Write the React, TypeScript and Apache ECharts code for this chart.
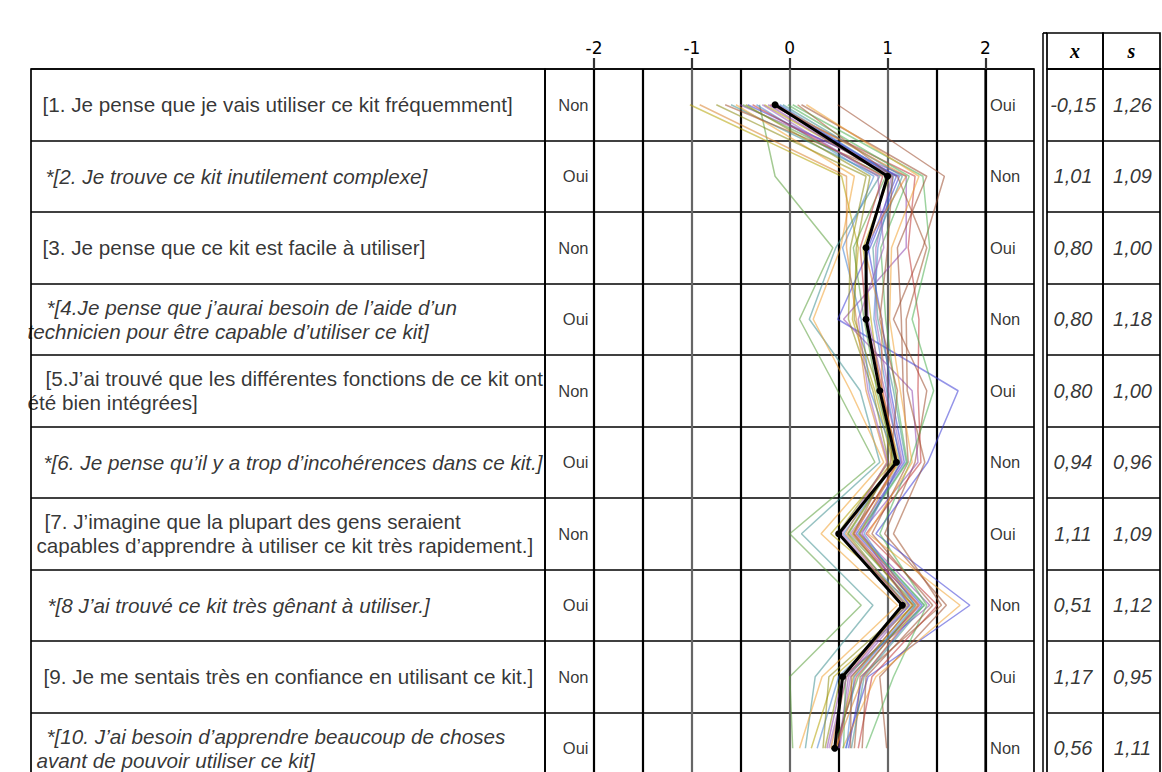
import React, { useEffect, useRef } from "react";
import * as echarts from "echarts";

// ---------- data ----------
const questions: string[][] = [
  ["[1. Je pense que je vais utiliser ce kit fréquemment]"],
  ["*[2. Je trouve ce kit inutilement complexe]"],
  ["[3. Je pense que ce kit est facile à utiliser]"],
  ["*[4.Je pense que j’aurai besoin de l’aide d’un", "technicien pour être capable d’utiliser ce kit]"],
  ["[5.J’ai trouvé que les différentes fonctions de ce kit ont", "été bien intégrées]"],
  ["*[6. Je pense qu’il y a trop d’incohérences dans ce kit.]"],
  ["[7. J’imagine que la plupart des gens seraient", "capables d’apprendre à utiliser ce kit très rapidement.]"],
  ["*[8 J’ai trouvé ce kit très gênant à utiliser.]"],
  ["[9. Je me sentais très en confiance en utilisant ce kit.]"],
  ["*[10. J’ai besoin d’apprendre beaucoup de choses", "avant de pouvoir utiliser ce kit]"],
];
const leftPoles = ["Non", "Oui", "Non", "Oui", "Non", "Oui", "Non", "Oui", "Non", "Oui"];
const rightPoles = ["Oui", "Non", "Oui", "Non", "Oui", "Non", "Oui", "Non", "Oui", "Non"];
const tableMeans = ["-0,15", "1,01", "0,80", "0,80", "0,80", "0,94", "1,11", "0,51", "1,17", "0,56"];
const tableSds = ["1,26", "1,09", "1,00", "1,18", "1,00", "0,96", "1,09", "1,12", "0,95", "1,11"];
const axisTicks = [-2, -1, 0, 1, 2];
const meanProfile = [-0.15, 1.0, 0.78, 0.78, 0.92, 1.09, 0.5, 1.15, 0.54, 0.46];

const respondents: number[][] = [
  [-1.02, 0.53, 0.7, 0.64, 0.87, 1.05, 0.42, 1.27, 0.45, 0.22],
  [0.49, 1.58, 1.36, 1.06, 1.4, 1.28, 0.97, 1.6, 0.92, 0.99],
  [-0.31, -0.15, 0.44, 0.1, 0.49, 0.87, 0.0, 0.73, 0.0, 0.03],
  [-0.43, 1.12, 0.82, 0.49, 1.72, 1.41, 0.88, 1.84, 0.8, 0.57],
  [-0.6, 0.92, 0.47, 0.2, 0.72, 0.92, 0.12, 0.85, 0.26, 0.16],
  [-0.55, 0.66, 0.52, 0.24, 0.62, 0.96, 0.32, 1.1, 0.33, 0.1],
  [-0.2, 1.28, 1.21, 1.32, 1.31, 1.34, 0.78, 1.51, 0.84, 0.7],
  [-0.51, 1.19, 1.19, 0.55, 1.25, 1.31, 0.72, 1.43, 0.54, 0.38],
  [0.03, 1.36, 1.43, 1.25, 1.47, 1.23, 0.92, 1.4, 1.06, 0.78],
  [-0.34, 0.86, 0.54, 0.73, 0.82, 1.09, 0.55, 1.23, 0.5, 0.28],
  [-0.66, 1.1, 1.4, 1.19, 1.2, 1.38, 1.06, 1.55, 0.72, 0.66],
  [-0.75, 0.78, 0.62, 0.6, 0.85, 1.01, 0.49, 1.21, 0.4, 0.34],
  [-0.12, 1.04, 0.88, 0.88, 1.01, 1.15, 0.62, 1.33, 0.62, 0.51],
  [-0.92, 0.58, 0.58, 0.68, 0.78, 0.99, 0.57, 1.16, 0.58, 0.42],
  [-0.26, 1.02, 0.75, 0.83, 0.93, 1.12, 0.64, 1.25, 0.65, 0.48],
  [0.12, 1.4, 1.1, 1.14, 1.16, 1.21, 0.84, 1.46, 0.78, 0.74],
  [-0.48, 0.98, 0.65, 0.76, 0.89, 1.07, 0.6, 1.29, 0.7, 0.45],
  [-0.17, 1.09, 0.8, 0.94, 1.03, 1.17, 0.68, 1.35, 0.74, 0.6],
  [-0.07, 1.15, 0.85, 0.9, 1.06, 1.19, 0.7, 1.37, 0.76, 0.63],
  [0.17, 1.32, 1.04, 1.02, 1.13, 1.25, 0.8, 1.74, 0.88, 0.54],
  [-0.38, 0.95, 0.72, 0.78, 0.95, 1.1, 0.66, 1.31, 0.68, 0.47],
  [-0.22, 1.0, 0.78, 0.8, 0.97, 1.14, 0.74, 1.22, 0.6, 0.5],
  [-0.02, 1.22, 0.93, 0.98, 1.08, 1.2, 0.71, 1.38, 0.57, 0.55],
  [-0.1, 1.06, 0.9, 0.86, 0.99, 1.13, 0.76, 1.28, 0.66, 0.58],
  [0.08, 1.05, 1.0, 0.92, 1.1, 1.03, 0.65, 1.26, 0.63, 0.62],
  [-0.45, 0.82, 0.68, 0.66, 0.91, 1.06, 0.59, 1.18, 0.52, 0.36],
  [-0.28, 0.9, 0.96, 0.7, 0.8, 1.0, 0.53, 1.19, 0.58, 0.4],
  [-0.15, 1.19, 0.76, 0.94, 0.94, 1.1, 0.71, 1.32, 0.75, 0.47],
];

const palette = [
  "#b5a200", "#9b4a2c", "#5a9f3a", "#3c3cd6", "#3f8f8f", "#f0a030", "#c03535",
  "#8e44ad", "#4caf50", "#3f7fd0", "#a0522d", "#8a8a10", "#9b59b6", "#d9822b",
];

// ---------- layout ----------
const TOP = 69;
const ROW_H = 71.5;
const N_ROWS = 10;
const FONT = "'Liberation Sans', Arial, sans-serif";
const Q_SIZE = 20.7;
// line starts (px) of question text: [first line, second line]
const textStarts: number[][] = [[43], [46], [43], [47, 28], [46, 28], [44], [45, 37], [48], [44], [47, 37]];
const TEXT_LEFT = 31;

function rowAxis(gridIndex: number) {
  return {
    gridIndex,
    type: "value",
    min: 0,
    max: N_ROWS,
    interval: 1,
    inverse: true,
    axisLine: { show: false },
    axisTick: { show: false },
    axisLabel: { show: false },
    splitLine: { show: true, lineStyle: { color: "#000", width: 1.7 } },
  };
}

function hiddenX(gridIndex: number) {
  return { gridIndex, type: "value", min: 0, max: 1, show: false };
}

function gridAt(left: number, width: number) {
  return {
    left,
    width,
    top: TOP,
    height: ROW_H * N_ROWS,
    show: true,
    borderColor: "#000",
    borderWidth: 1.7,
    backgroundColor: "transparent",
  };
}

export default function App() {
  const ref = useRef<HTMLDivElement>(null);

  useEffect(() => {
    if (!ref.current) return;
    const chart = echarts.init(ref.current, undefined, { renderer: "svg" });

    const grids = [
      gridAt(594, 391.5), // 0 plot
      gridAt(TEXT_LEFT, 545 - TEXT_LEFT), // 1 questions
      gridAt(545, 49), // 2 left pole
      gridAt(985.5, 48.5), // 3 right pole
      gridAt(1047, 56), // 4 mean table
      gridAt(1103, 57), // 5 sd table
    ];

    const xAxes: any[] = [
      {
        gridIndex: 0,
        type: "value",
        min: -2,
        max: 2,
        interval: 0.5,
        position: "bottom",
        axisLine: { show: false },
        axisTick: { show: false },
        axisLabel: { show: false },
        splitLine: {
          show: true,
          lineStyle: {
            width: 2.2,
            color: ["#000", "#000", "#666", "#000", "#666", "#000", "#666", "#000", "#000"],
          },
        },
      },
      {
        gridIndex: 0,
        type: "value",
        min: -2,
        max: 2,
        interval: 1,
        position: "top",
        axisLine: { show: false },
        axisTick: { show: true, length: 11, lineStyle: { color: "#333", width: 2.2 } },
        axisLabel: {
          show: true,
          fontSize: 17,
          fontFamily: "'DejaVu Sans', sans-serif",
          color: "#000",
          margin: 13,
          formatter: (v: number) => (axisTicks.includes(v) ? String(v) : ""),
        },
        splitLine: { show: false },
      },
      hiddenX(1),
      hiddenX(2),
      hiddenX(3),
      hiddenX(4),
      hiddenX(5),
    ];

    const yAxes = [0, 1, 2, 3, 4, 5].map(rowAxis);

    const respondentSeries = respondents.map((r, k) => ({
      type: "line",
      xAxisIndex: 0,
      yAxisIndex: 0,
      data: r.map((v, i) => [v, i + 0.5]),
      symbol: "none",
      silent: true,
      z: 3,
      lineStyle: { width: 1.5, color: palette[k % palette.length], opacity: 0.55 },
    }));

    const meanSeries = {
      type: "line",
      xAxisIndex: 0,
      yAxisIndex: 0,
      data: meanProfile.map((v, i) => [v, i + 0.5]),
      symbol: "circle",
      symbolSize: 7,
      z: 5,
      itemStyle: { color: "#000" },
      lineStyle: { width: 3, color: "#000" },
    };

    const questionSeries = {
      type: "scatter",
      xAxisIndex: 2,
      yAxisIndex: 1,
      symbolSize: 1,
      itemStyle: { color: "rgba(0,0,0,0)" },
      silent: true,
      data: questions.map((lines, i) => {
        const italic = lines[0].startsWith("*");
        const st = italic ? "it" : "n";
        const starts = textStarts[i];
        const base = Math.min(...starts);
        const pad = starts[0] - base;
        const text = lines
          .map((ln, j) => (j === 0 && pad > 0 ? `{p|\u00a0}{${st}|${ln}}` : `{${st}|${ln}}`))
          .join("\n");
        const common = { fontSize: Q_SIZE, fontFamily: FONT, color: "#000", lineHeight: 24 };
        return {
          value: [0, i + 0.5],
          label: {
            show: true,
            position: "right",
            distance: 0,
            offset: [base - TEXT_LEFT - 1, 0],
            formatter: text,
            rich: {
              n: { ...common },
              it: { ...common, fontStyle: "italic" },
              p: { width: pad, fontSize: Q_SIZE, lineHeight: 24 },
            },
          },
        };
      }),
    };

    const poleLabel = (pos: string, dist: number) => ({
      show: true,
      position: pos,
      distance: dist,
      fontSize: 16.5,
      fontFamily: FONT,
      color: "#000",
    });

    const leftPoleSeries = {
      type: "scatter",
      xAxisIndex: 3,
      yAxisIndex: 2,
      symbolSize: 1,
      itemStyle: { color: "rgba(0,0,0,0)" },
      silent: true,
      data: leftPoles.map((t, i) => ({ value: [1, i + 0.5], label: { ...poleLabel("left", 5), formatter: t } })),
    };
    const rightPoleSeries = {
      type: "scatter",
      xAxisIndex: 4,
      yAxisIndex: 3,
      symbolSize: 1,
      itemStyle: { color: "rgba(0,0,0,0)" },
      silent: true,
      data: rightPoles.map((t, i) => ({ value: [0, i + 0.5], label: { ...poleLabel("right", 4), formatter: t } })),
    };

    const valueLabel = {
      show: true,
      position: "inside",
      fontSize: 20,
      fontStyle: "italic",
      fontFamily: FONT,
      color: "#000",
    };
    const meanTableSeries = {
      type: "scatter",
      xAxisIndex: 5,
      yAxisIndex: 4,
      symbolSize: 1,
      itemStyle: { color: "rgba(0,0,0,0)" },
      silent: true,
      data: tableMeans.map((t, i) => ({ value: [0.5, i + 0.5], label: { ...valueLabel, formatter: t, offset: [-2, 0] } })),
    };
    const sdTableSeries = {
      type: "scatter",
      xAxisIndex: 6,
      yAxisIndex: 5,
      symbolSize: 1,
      itemStyle: { color: "rgba(0,0,0,0)" },
      silent: true,
      data: tableSds.map((t, i) => ({ value: [0.5, i + 0.5], label: { ...valueLabel, formatter: t, offset: [1, 0] } })),
    };

    const headerStyle = {
      fill: "#000",
      font: "italic bold 20px 'Liberation Serif', 'Times New Roman', serif",
      textAlign: "center",
      textVerticalAlign: "middle",
    };

    chart.setOption({
      animation: false,
      backgroundColor: "#fff",
      grid: grids,
      xAxis: xAxes,
      yAxis: yAxes,
      series: [...respondentSeries, meanSeries, questionSeries, leftPoleSeries, rightPoleSeries, meanTableSeries, sdTableSeries],
      graphic: [
        { type: "rect", shape: { x: 1047, y: 33, width: 56, height: 36 }, style: { fill: "none", stroke: "#000", lineWidth: 1.7 } },
        { type: "rect", shape: { x: 1103, y: 33, width: 57, height: 36 }, style: { fill: "none", stroke: "#000", lineWidth: 1.7 } },
        { type: "line", shape: { x1: 1043, y1: 33, x2: 1043, y2: 800 }, style: { stroke: "#000", lineWidth: 1.5 } },
        { type: "line", shape: { x1: 1043, y1: 33, x2: 1047, y2: 33 }, style: { stroke: "#000", lineWidth: 1.7 } },
        { type: "text", x: 1075, y: 51, style: { ...headerStyle, text: "x" } },
        { type: "text", x: 1131.5, y: 51, style: { ...headerStyle, text: "s" } },
      ],
    });

    return () => chart.dispose();
  }, []);

  return (
    <div style={{ position: "fixed", left: 0, top: 0, width: 1162, height: 772, overflow: "hidden", background: "#fff" }}>
      <div ref={ref} style={{ width: 1162, height: 810 }} />
    </div>
  );
}
